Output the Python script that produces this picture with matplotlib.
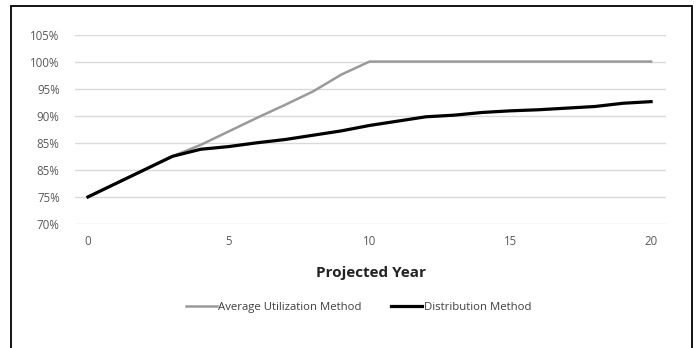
import matplotlib
matplotlib.use('Agg')
import matplotlib.pyplot as plt
from matplotlib.patches import Rectangle

# data
years = list(range(0, 21))
avg_util = [75, 77.5, 80, 82.5, 84.6, 87.1, 89.6, 92.0, 94.5, 97.6, 100,
            100, 100, 100, 100, 100, 100, 100, 100, 100, 100]
distribution = [75, 77.5, 80, 82.5, 83.8, 84.3, 85.0, 85.6, 86.4, 87.2, 88.2,
                89.0, 89.8, 90.1, 90.6, 90.9, 91.1, 91.4, 91.7, 92.3, 92.6]
y_ticks = [70, 75, 80, 85, 90, 95, 100, 105]
y_tick_labels = ['70%', '75%', '85%', '85%', '90%', '95%', '100%', '105%']
x_ticks = [0, 5, 10, 15, 20]

plt.rcParams['font.family'] = ['Open Sans', 'DejaVu Sans']

fig = plt.figure(figsize=(6.96, 3.48), dpi=100)
fig.patch.set_facecolor('white')
ax = fig.add_axes([75 / 696, 1 - 224 / 348, (666 - 75) / 696, (224 - 34.5) / 348])

ax.plot(years, avg_util, color='#9a9a9a', lw=1.8, label='Average Utilization Method')
ax.plot(years, distribution, color='black', lw=2.3, label='Distribution Method')

ax.set_xlim(-0.46, 20.53)
ax.set_ylim(70, 105)
ax.set_yticks(y_ticks)
ax.set_yticklabels(y_tick_labels)
ax.set_xticks(x_ticks)
ax.grid(axis='y', color='#d9d9d9', lw=1)
ax.set_axisbelow(True)
for s in ax.spines.values():
    s.set_visible(False)
ax.tick_params(length=0, labelsize=8.3, labelcolor='#595959')
ax.tick_params(axis='x', pad=8)
ax.tick_params(axis='y', pad=11)

ax.set_xlabel('Projected Year', fontsize=11, fontweight='bold', color='#222222', labelpad=13)

ax.legend(loc='upper center', bbox_to_anchor=(0.48, -0.36), ncol=2, frameon=False,
          fontsize=8.2, labelcolor='#404040', handlelength=2.7, handletextpad=0.15,
          columnspacing=2.6)

# outer frame (open at the bottom)
fig.add_artist(Rectangle((11 / 696, -0.05), (692 - 11) / 696, 1 - 6 / 348 + 0.05,
                         transform=fig.transFigure, fill=False, ec='black', lw=1.3))

fig.savefig('out.png', dpi=100)
